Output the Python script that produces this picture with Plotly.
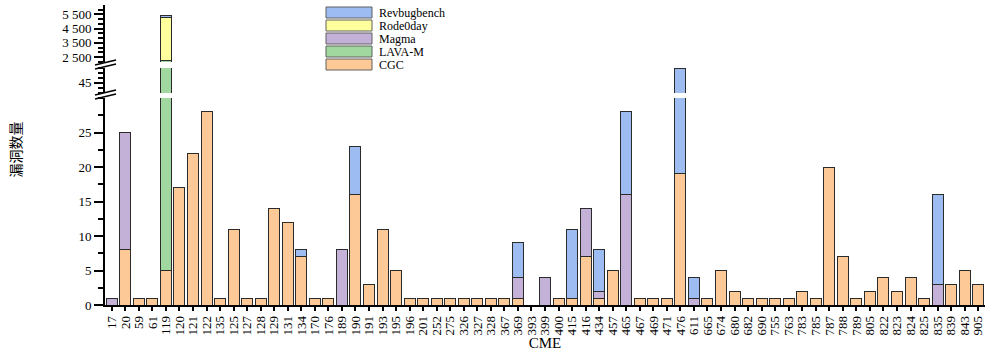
import plotly.graph_objects as go

# ---------------- data ----------------
categories = [17, 20, 59, 61, 119, 120, 121, 122, 135, 125, 127, 128, 129, 131, 134,
              170, 176, 189, 190, 191, 193, 195, 196, 201, 252, 275, 326, 327, 328,
              367, 369, 393, 399, 400, 415, 416, 434, 457, 465, 467, 469, 471, 476,
              611, 665, 674, 680, 682, 690, 755, 763, 783, 785, 787, 788, 789, 805,
              822, 823, 824, 825, 835, 839, 843, 905]

cgc = [0, 8, 1, 1, 5, 17, 22, 28, 1, 11, 1, 1, 14, 12, 7,
       1, 1, 0, 16, 3, 11, 5, 1, 1, 1, 1, 1, 1, 1,
       1, 1, 0, 0, 1, 1, 7, 1, 5, 0, 1, 1, 1, 19,
       0, 1, 5, 2, 1, 1, 1, 1, 2, 1, 20, 7, 1, 2,
       4, 2, 4, 1, 0, 3, 5, 3]

lava_m = [0, 0, 0, 0, 2265, 0, 0, 0, 0, 0, 0, 0, 0, 0, 0,
          0, 0, 0, 0, 0, 0, 0, 0, 0, 0, 0, 0, 0, 0,
          0, 0, 0, 0, 0, 0, 0, 0, 0, 0, 0, 0, 0, 0,
          0, 0, 0, 0, 0, 0, 0, 0, 0, 0, 0, 0, 0, 0,
          0, 0, 0, 0, 0, 0, 0, 0]

magma = [1, 17, 0, 0, 0, 0, 0, 0, 0, 0, 0, 0, 0, 0, 0,
         0, 0, 8, 0, 0, 0, 0, 0, 0, 0, 0, 0, 0, 0,
         0, 3, 0, 4, 0, 0, 7, 1, 0, 16, 0, 0, 0, 0,
         1, 0, 0, 0, 0, 0, 0, 0, 0, 0, 0, 0, 0, 0,
         0, 0, 0, 0, 3, 0, 0, 0]

rode0day = [0, 0, 0, 0, 3000, 0, 0, 0, 0, 0, 0, 0, 0, 0, 0,
            0, 0, 0, 0, 0, 0, 0, 0, 0, 0, 0, 0, 0, 0,
            0, 0, 0, 0, 0, 0, 0, 0, 0, 0, 0, 0, 0, 0,
            0, 0, 0, 0, 0, 0, 0, 0, 0, 0, 0, 0, 0, 0,
            0, 0, 0, 0, 0, 0, 0, 0]

revbugbench = [0, 0, 0, 0, 150, 0, 0, 0, 0, 0, 0, 0, 0, 0, 1,
               0, 0, 0, 7, 0, 0, 0, 0, 0, 0, 0, 0, 0, 0,
               0, 5, 0, 0, 0, 10, 0, 6, 0, 12, 0, 0, 0, 29,
               3, 0, 0, 0, 0, 0, 0, 0, 0, 0, 0, 0, 0, 0,
               0, 0, 0, 0, 13, 0, 0, 0]

series_names = ["CGC", "LAVA-M", "Magma", "Rode0day", "Revbugbench"]
series_values = [cgc, lava_m, magma, rode0day, revbugbench]
series_colors = ["#FDC996", "#A0D8A0", "#C3B1D8", "#FFFF9E", "#9CBCF2"]

bottom_ticks = [0, 5, 10, 15, 20, 25]
middle_ticks = [45]
top_ticks = [2500, 3500, 4500, 5500]
top_tick_text = ["2 500", "3 500", "4 500", "5 500"]

# ---------------- layout helpers ----------------
W, H = 985, 357
L, R, T, B = 105, 0, 5, 52
PW, PH = W - L - R, H - T - B


def px_x(px):
    return (px - L) / PW


def px_y(py):
    return (H - B - py) / PH


FONT = "Liberation Serif, Times New Roman, DejaVu Serif, serif"
x_labels = [str(c) for c in categories]

fig = go.Figure()
for ax in ["y", "y2", "y3"]:
    for name, vals, col in zip(series_names, series_values, series_colors):
        fig.add_bar(
            x=x_labels,
            y=[v if v else None for v in vals],
            name=name,
            marker=dict(color=col, line=dict(color="#2b2b2b", width=1)),
            xaxis="x", yaxis=ax, showlegend=False,
            hovertemplate=name + " CWE-%{x}: %{y}<extra></extra>",
        )

common_y = dict(
    showline=True, linecolor="black", linewidth=2, mirror=False,
    ticks="outside", ticklen=9, tickwidth=1.5, tickcolor="black",
    showgrid=False, zeroline=False, anchor="x",
    tickfont=dict(family=FONT, size=13, color="black"),
)

fig.update_layout(
    width=W, height=H,
    margin=dict(l=L, r=R, t=T, b=B, autoexpand=False),
    plot_bgcolor="white", paper_bgcolor="white",
    barmode="stack", bargap=0.19,
    font=dict(family=FONT, size=13, color="black"),
    xaxis=dict(
        type="category", categoryorder="array", categoryarray=x_labels,
        range=[-0.5, len(categories) - 0.5],
        tickmode="array", tickvals=x_labels, ticktext=x_labels,
        showline=True, linecolor="black", linewidth=1.5,
        ticks="outside", ticklen=4, tickwidth=1.5, tickcolor="black",
        tickangle=-90, tickfont=dict(family=FONT, size=13, color="black"),
        showgrid=False, zeroline=False, automargin=False,
        title=dict(text="CME", font=dict(family=FONT, size=15, color="black"), standoff=2),
    ),
    yaxis=dict(
        domain=[0, px_y(98)], range=[0, 30],
        tickvals=bottom_ticks,
        minor=dict(ticks="outside", ticklen=5, tickwidth=1.5, tickcolor="black",
                   tick0=0, dtick=2.5, showgrid=False),
        **common_y,
    ),
    yaxis2=dict(
        domain=[px_y(93), px_y(68)], range=[42.9, 48.1],
        tickvals=middle_ticks,
        minor=dict(ticks="outside", ticklen=5, tickwidth=1.5, tickcolor="black",
                   tick0=45, dtick=1, showgrid=False),
        **common_y,
    ),
    yaxis3=dict(
        domain=[px_y(62), 1], range=[2150, 6150],
        tickvals=top_ticks, ticktext=top_tick_text,
        minor=dict(ticks="outside", ticklen=5, tickwidth=1.5, tickcolor="black",
                   tick0=2500, dtick=1000 / 3, showgrid=False),
        **common_y,
    ),
)

shapes = []
annotations = []

# legend drawn as wide boxes (top to bottom: reverse stacking order)
for i, (name, col) in enumerate(zip(series_names[::-1], series_colors[::-1])):
    top = 7 + 13 * i
    shapes.append(dict(type="rect", xref="paper", yref="paper",
                       x0=px_x(326), x1=px_x(372), y0=px_y(top + 11), y1=px_y(top),
                       fillcolor=col, line=dict(color="#606060", width=1)))
    annotations.append(dict(xref="paper", yref="paper", x=px_x(377), y=px_y(top + 5.5),
                            text=name, showarrow=False, xanchor="left", yanchor="middle",
                            font=dict(family=FONT, size=12, color="black")))

# axis break marks
for (ya, yb) in [(65, 60), (69, 64), (95, 90), (99, 94)]:
    shapes.append(dict(type="line", xref="paper", yref="paper",
                       x0=px_x(95), x1=px_x(116), y0=px_y(ya), y1=px_y(yb),
                       line=dict(color="black", width=1.5)))

# y title
annotations.append(dict(xref="paper", yref="paper", x=px_x(14.5), y=px_y(150),
                        text="漏洞数量", textangle=-90, showarrow=False,
                        xanchor="center", yanchor="middle",
                        font=dict(family="Noto Sans CJK SC", size=14, color="black")))

fig.update_layout(shapes=shapes, annotations=annotations)
fig.write_html("out.html", config={"displayModeBar": False},
               post_script="document.body.style.margin='0';")
